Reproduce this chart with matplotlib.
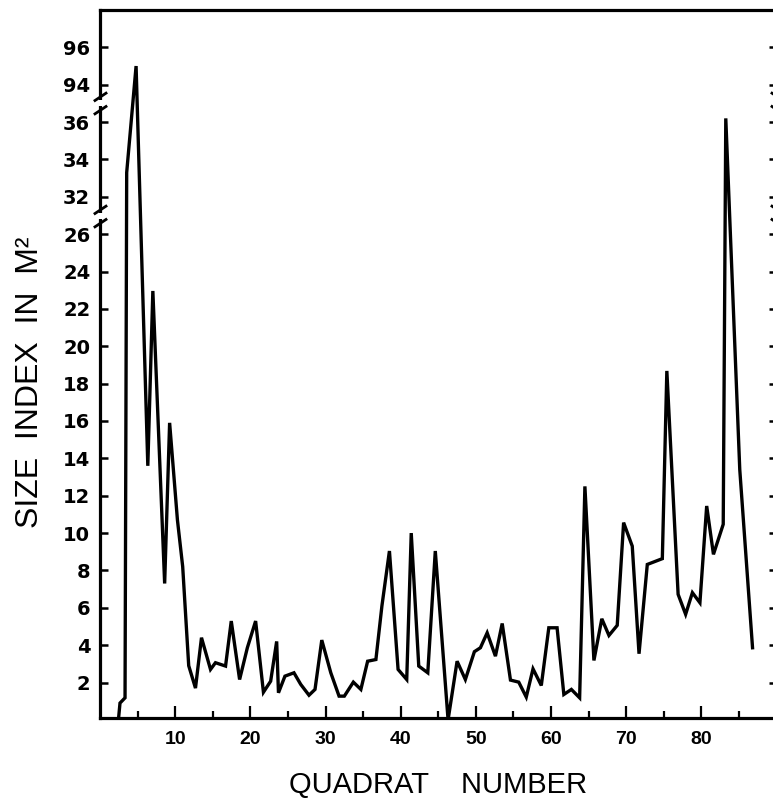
import numpy as np
import matplotlib
matplotlib.use("Agg")
import matplotlib.pyplot as plt
from matplotlib.path import Path

# quadrat position and size index in m^2
quadrat = [2.45, 2.66, 3.33, 3.55, 4.8, 6.36, 7.03, 8.6, 9.26, 10.3, 11.0,
           11.8, 12.7, 13.5, 14.7, 15.36, 16.7, 17.46, 18.57, 19.6, 20.7,
           21.74, 22.7, 23.5, 23.74, 24.6, 25.8, 26.7, 27.8, 28.6, 29.5,
           30.7, 31.8, 32.5, 33.7, 34.7, 35.6, 36.7, 37.5, 38.5, 39.65,
           40.8, 41.4, 42.4, 43.6, 44.6, 46.3, 47.5, 48.6, 49.8, 50.6,
           51.5, 52.6, 53.5, 54.6, 55.7, 56.7, 57.6, 58.7, 59.7, 60.8,
           61.7, 62.7, 63.8, 64.5, 65.7, 66.75, 67.7, 68.8, 69.65, 70.8,
           71.7, 72.8, 74.8, 75.4, 76.9, 77.9, 78.8, 79.8, 80.7, 81.6,
           82.9, 83.24, 85.1, 86.8]
size_index = [0, 0.9, 1.18, 33.3, 95.0, 13.6, 22.96, 7.3, 15.9, 10.7, 8.2,
              2.9, 1.7, 4.4, 2.7, 3.06, 2.88, 5.29, 2.16, 3.86, 5.29,
              1.48, 2.07, 4.2, 1.45, 2.34, 2.52, 1.9, 1.32, 1.63, 4.27,
              2.52, 1.27, 1.27, 2.02, 1.63, 3.14, 3.23, 6.1, 9.04, 2.7,
              2.16, 10.0, 2.88, 2.52, 9.04, 0.0, 3.14, 2.16, 3.65, 3.86,
              4.66, 3.41, 5.16, 2.13, 2.02, 1.22, 2.73, 1.84, 4.93, 4.93,
              1.36, 1.63, 1.18, 12.5, 3.18, 5.41, 4.52, 5.06, 10.56, 9.3,
              3.54, 8.32, 8.63, 18.68, 6.72, 5.65, 6.81, 6.27, 11.45, 8.86,
              10.47, 36.2, 13.4, 3.86]

y_ticks = [2, 4, 6, 8, 10, 12, 14, 16, 18, 20, 22, 24, 26, 32, 34, 36, 94, 96]
x_ticks = [10, 20, 30, 40, 50, 60, 70, 80]

# broken y axis: 27..31 and 37..93 are squeezed out
brk_v = [-10, 27, 31, 37, 93, 300]
brk_d = [-10, 27, 27.001, 33, 33.001, 240]


def fwd(v):
    return np.interp(v, brk_v, brk_d)


def inv(d):
    return np.interp(d, brk_d, brk_v)


fig = plt.figure(figsize=(7.73, 8.02), dpi=100)
W, H = 773, 802
ax = fig.add_axes([100 / W, 84 / H, 676.6 / W, 708 / H])
ax.set_yscale("function", functions=(fwd, inv))

ax.plot(quadrat, size_index, color="black", lw=2.4, solid_joinstyle="miter")

ax.set_xlim(0, 90)
ax.set_ylim(0.1, 98)

for s in ax.spines.values():
    s.set_linewidth(2.3)

ax.set_yticks(y_ticks)
ax.set_yticklabels([str(t) for t in y_ticks], fontsize=14, fontweight="bold",
                   family="DejaVu Sans")
ax.yaxis.set_minor_locator(matplotlib.ticker.NullLocator())
ax.tick_params(axis="y", direction="in", length=6, width=1.8, pad=7,
               right=True)

ax.set_xticks(x_ticks)
ax.set_xticks([5, 15, 25, 35, 45, 55, 65, 75, 85], minor=True)
ax.set_xticklabels([str(t) for t in x_ticks], fontsize=14, fontweight="bold",
                   family="Liberation Sans")
ax.tick_params(axis="x", which="major", direction="in", length=9, width=1.6,
               pad=9)
ax.tick_params(axis="x", which="minor", direction="in", length=5, width=1.6)

# break marks on both vertical spines ("//" left, "\\" right)
slash_l = Path([(-0.6, -1.0), (0.6, -0.2), (-0.6, 0.2), (0.6, 1.0)],
               [Path.MOVETO, Path.LINETO, Path.MOVETO, Path.LINETO])
slash_r = Path([(-0.6, -0.2), (0.6, -1.0), (-0.6, 1.0), (0.6, 0.2)],
               [Path.MOVETO, Path.LINETO, Path.MOVETO, Path.LINETO])
for bv in (27, 37):
    for xa, mk in ((0, slash_l), (1, slash_r)):
        ax.plot(xa, bv, marker="|", ms=5, mew=6, color="white",
                transform=ax.get_yaxis_transform(), clip_on=False, zorder=5)
        ax.plot(xa, bv, marker=mk, ms=16, mew=2.0, color="black",
                transform=ax.get_yaxis_transform(), clip_on=False, zorder=6)

fig.text(438 / W, 9 / H, "QUADRAT    NUMBER", ha="center", va="baseline",
         fontsize=21, family=["Liberation Sans", "DejaVu Sans"])
fig.text(30 / W, 1 - 382 / H, "SIZE  INDEX  IN  M²", rotation=90,
         ha="center", va="center", fontsize=23,
         family=["Liberation Sans Narrow", "Liberation Sans", "DejaVu Sans"])

fig.savefig("out.png", dpi=100)
